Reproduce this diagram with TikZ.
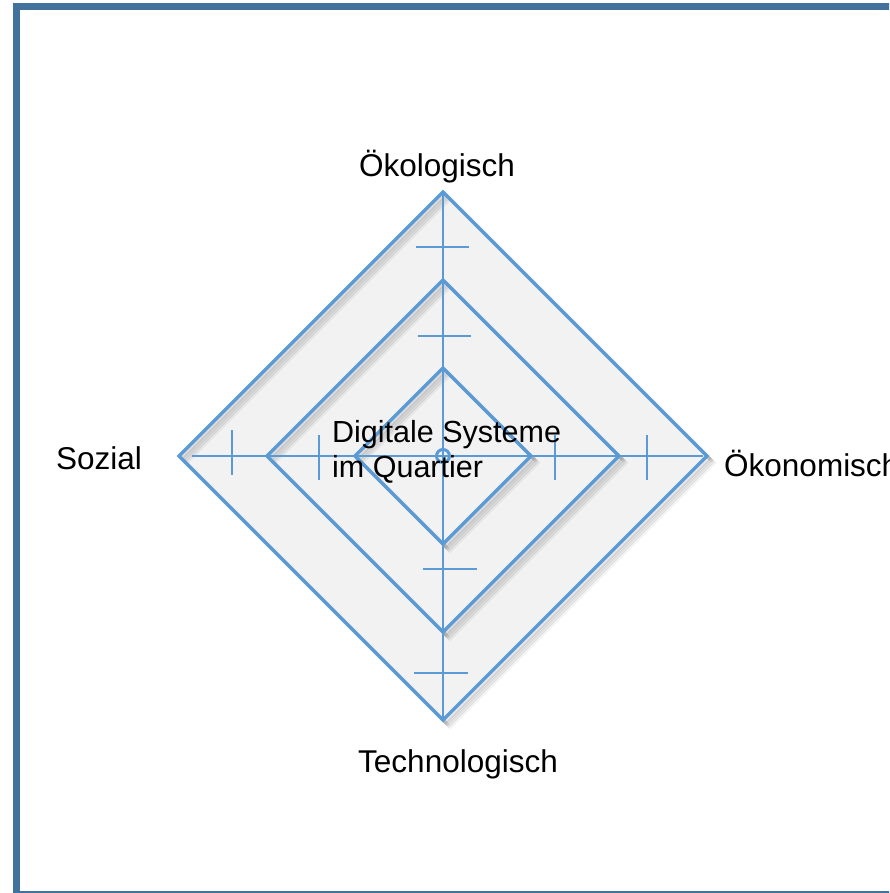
\documentclass[tikz,border=0pt]{standalone}
\usepackage{fontspec}
\setmainfont{Liberation Sans}
\definecolor{frameblue}{HTML}{41719C}
\definecolor{lineblue}{HTML}{5B9BD5}
\definecolor{fillgray}{HTML}{F2F2F2}
\begin{document}
\begin{tikzpicture}[x=1pt,y=-1pt,
  diam/.style={draw=lineblue,line width=3.5,line join=miter},
  axisline/.style={draw=lineblue,line width=2.8},
  tick/.style={draw=lineblue,line width=2.8},
  lbl/.style={inner sep=0pt,font=\fontsize{31.5}{36}\selectfont,text=black}]
\useasboundingbox (0,0) rectangle (889,893);
\clip (0,0) rectangle (889,893);
\draw[frameblue,line width=7] (16.5,6.5) rectangle (900,894.5);
% centre
\coordinate (c) at (443,456);
% fill of the outer diamond
\fill[fillgray] (443,192) -- (707,456) -- (443,720) -- (179,456) -- cycle;
% shadows and diamonds
\foreach \r in {264,176,88}{
  \foreach \o/\op in {7/0.05,5.5/0.07,4/0.09,2.5/0.1}{
    \draw[black,opacity=\op,line width=3.5,line join=miter]
      ([shift={(\o,\o)}]c) ++(0,-\r) -- ++(\r,\r) -- ++(-\r,\r) -- ++(-\r,-\r) -- cycle;
  }
  \draw[diam] (c) ++(0,-\r) -- ++(\r,\r) -- ++(-\r,\r) -- ++(-\r,-\r) -- cycle;
}
% axes
\coordinate (atop) at (443,192);
\coordinate (abot) at (443,719);
\coordinate (aleft) at (192,456);
\coordinate (aright) at (703,456);
\draw[axisline] (atop) -- (abot);
\draw[axisline] (aleft) -- (aright);
% ticks
\draw[tick] (416,247) -- (469,247);
\draw[tick] (418,336) -- (471,336);
\draw[tick] (423,569) -- (477,569);
\draw[tick] (414,673) -- (468,673);
\draw[tick] (232,430) -- (232,475);
\draw[tick] (319,435) -- (319,480);
\draw[tick] (555,435) -- (555,480);
\draw[tick] (647,435) -- (647,480);
% centre circle
\draw[lineblue,line width=3] (c) circle (6.5);
% labels
\node[lbl] (oek) at (437,167) {Ökologisch};
\node[lbl] (tech) at (458,764) {Technologisch};
\node[lbl,anchor=west] (soz) at (56,458) {Sozial};
\node[lbl,anchor=west] (oeko) at (724,463) {Ökonomisch};
\node[lbl,anchor=west,align=left,font=\fontsize{30.5}{35}\selectfont] (dig) at (332,452) {Digitale Systeme\\im Quartier};
\end{tikzpicture}
\end{document}
